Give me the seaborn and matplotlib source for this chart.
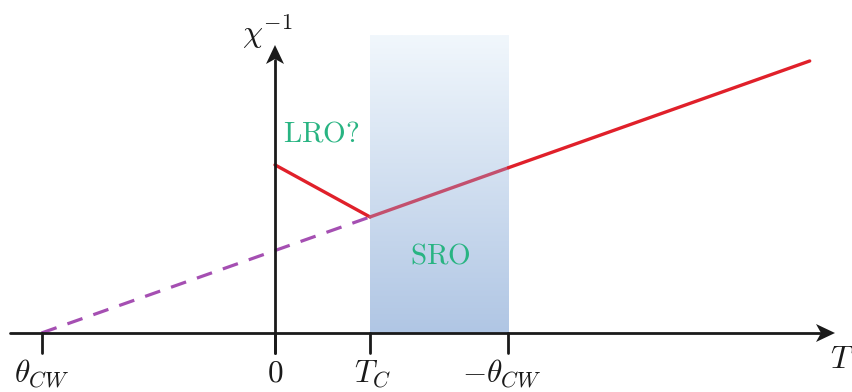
import numpy as np
import pandas as pd
import matplotlib
matplotlib.use("Agg")
import matplotlib.pyplot as plt
import seaborn as sns
from matplotlib.patches import Polygon
from matplotlib.colors import LinearSegmentedColormap

# ---- data (schematic Curie-Weiss plot) ----
theta_cw = -1.0
T_c = 0.407
tick_T = [theta_cw, 0.0, T_c, -theta_cw]
tick_labels = [r"$\theta_{CW}$", r"$0$", r"$T_C$", r"$-\theta_{CW}$"]

lro_T = [0.0, T_c]            # ordered-phase branch
lro_chi = [0.72, 0.497]
cw_in_T = [T_c, -theta_cw]     # Curie-Weiss line inside SRO region
cw_in_chi = [0.497, 0.708]
cw_out_T = [-theta_cw, 2.29]   # Curie-Weiss line beyond region
cw_out_chi = [0.708, 1.165]
ext_T = [theta_cw, T_c]        # extrapolation (dashed)
ext_chi = [0.0, 0.497]
sro_T = [T_c, -theta_cw]
sro_top = 1.276

sns.set_theme(style="white")
plt.rcParams["mathtext.fontset"] = "cm"
plt.rcParams["font.family"] = ["DejaVu Serif"]

fig = plt.figure(figsize=(8.53, 3.92), dpi=100)
ax = fig.add_axes([0, 0, 1, 1])
ax.set_xlim(-275 / 233.5, (853 - 275) / 233.5)
ax.set_ylim((333 - 392) / 233.5, 333 / 233.5)
ax.axis("off")

# gradient SRO region
cmap = LinearSegmentedColormap.from_list("sro", ["#b0c6e4", "#f1f7fc"])
grad = np.linspace(0, 1, 256).reshape(-1, 1)
ax.imshow(grad, cmap=cmap, origin="lower", aspect="auto",
          extent=[sro_T[0], sro_T[1], 0, sro_top], zorder=1)

red = "#e0202a"
purple = "#a54fb2"
green = "#28b482"

sns.lineplot(x=ext_T, y=ext_chi, ax=ax, color=purple, lw=2.3,
             linestyle=(0, (5, 3.6)), zorder=2)
sns.lineplot(x=lro_T, y=lro_chi, ax=ax, color=red, lw=2.4, zorder=3)
sns.lineplot(x=cw_in_T, y=cw_in_chi, ax=ax, color="#c3506e", lw=2.4, zorder=3)
sns.lineplot(x=cw_out_T, y=cw_out_chi, ax=ax, color=red, lw=2.4, zorder=3)

# axes lines
px = 1 / 233.5
k = "#1a1a1a"
ax.plot([10 * px - 275 * px, (820 - 275) * px], [0, 0], color=k, lw=2.0, zorder=4)
ax.plot([0, 0], [-20 * px, (333 - 60) * px], color=k, lw=2.0, zorder=4)
for t in tick_T:
    ax.plot([t, t], [0, -20 * px], color=k, lw=2.0, zorder=4)

# arrow heads (stealth style)
tipx = (835 - 275) * px
ax.add_patch(Polygon([[tipx, 0], [tipx - 19 * px, 9 * px],
                      [tipx - 14 * px, 0], [tipx - 19 * px, -9 * px]],
                     closed=True, color=k, zorder=5, lw=0))
tipy = (333 - 45) * px
ax.add_patch(Polygon([[0, tipy], [9 * px, tipy - 19 * px],
                      [0, tipy - 14 * px], [-9 * px, tipy - 19 * px]],
                     closed=True, color=k, zorder=5, lw=0))

# tick labels
xoff = [0, 0, 0.01, -0.03]
for t, lab, o in zip(tick_T, tick_labels, xoff):
    ax.text(t + o, (333 - 382) * px, lab, ha="center", va="baseline",
            fontsize=22.5, color=k)

ax.text((842 - 275) * px, (333 - 359) * px, r"$T$", ha="center", va="center",
        fontsize=23, color=k)
ax.text((267 - 275) * px, (333 - 32) * px, r"$\chi^{-1}$", ha="center",
        va="center", fontsize=23, color=k)

ax.text((321 - 275) * px, (333 - 133) * px, r"$\mathrm{LRO?}$", ha="center",
        va="center", fontsize=21, color=green, zorder=6)
ax.text((440 - 275) * px, (333 - 256) * px, r"$\mathrm{SRO}$", ha="center",
        va="center", fontsize=21, color=green, zorder=6)

fig.savefig("out.png", dpi=100)
